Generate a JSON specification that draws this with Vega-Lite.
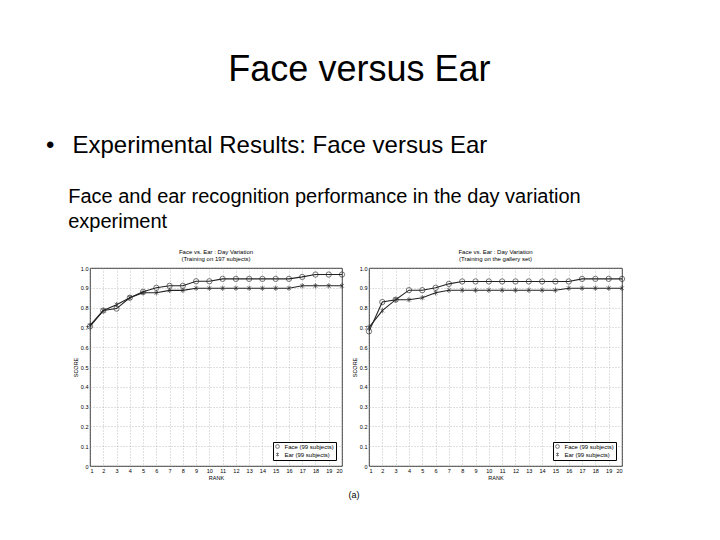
{
  "$schema": "https://vega.github.io/schema/vega-lite/v6.json",
  "background": "white",
  "padding": {"left": 45, "top": 51, "right": 5, "bottom": 5},
  "datasets": {
    "left": [
      {"rank": 1, "series": "Face (99 subjects)", "score": 0.705},
      {"rank": 2, "series": "Face (99 subjects)", "score": 0.785},
      {"rank": 3, "series": "Face (99 subjects)", "score": 0.795},
      {"rank": 4, "series": "Face (99 subjects)", "score": 0.85},
      {"rank": 5, "series": "Face (99 subjects)", "score": 0.88},
      {"rank": 6, "series": "Face (99 subjects)", "score": 0.9},
      {"rank": 7, "series": "Face (99 subjects)", "score": 0.91},
      {"rank": 8, "series": "Face (99 subjects)", "score": 0.91},
      {"rank": 9, "series": "Face (99 subjects)", "score": 0.933},
      {"rank": 10, "series": "Face (99 subjects)", "score": 0.933},
      {"rank": 11, "series": "Face (99 subjects)", "score": 0.945},
      {"rank": 12, "series": "Face (99 subjects)", "score": 0.945},
      {"rank": 13, "series": "Face (99 subjects)", "score": 0.945},
      {"rank": 14, "series": "Face (99 subjects)", "score": 0.945},
      {"rank": 15, "series": "Face (99 subjects)", "score": 0.945},
      {"rank": 16, "series": "Face (99 subjects)", "score": 0.945},
      {"rank": 17, "series": "Face (99 subjects)", "score": 0.955},
      {"rank": 18, "series": "Face (99 subjects)", "score": 0.967},
      {"rank": 19, "series": "Face (99 subjects)", "score": 0.967},
      {"rank": 20, "series": "Face (99 subjects)", "score": 0.967},
      {"rank": 1, "series": "Ear (99 subjects)", "score": 0.71},
      {"rank": 2, "series": "Ear (99 subjects)", "score": 0.785},
      {"rank": 3, "series": "Ear (99 subjects)", "score": 0.815},
      {"rank": 4, "series": "Ear (99 subjects)", "score": 0.85},
      {"rank": 5, "series": "Ear (99 subjects)", "score": 0.875},
      {"rank": 6, "series": "Ear (99 subjects)", "score": 0.875},
      {"rank": 7, "series": "Ear (99 subjects)", "score": 0.887},
      {"rank": 8, "series": "Ear (99 subjects)", "score": 0.887},
      {"rank": 9, "series": "Ear (99 subjects)", "score": 0.898},
      {"rank": 10, "series": "Ear (99 subjects)", "score": 0.898},
      {"rank": 11, "series": "Ear (99 subjects)", "score": 0.898},
      {"rank": 12, "series": "Ear (99 subjects)", "score": 0.898},
      {"rank": 13, "series": "Ear (99 subjects)", "score": 0.898},
      {"rank": 14, "series": "Ear (99 subjects)", "score": 0.898},
      {"rank": 15, "series": "Ear (99 subjects)", "score": 0.898},
      {"rank": 16, "series": "Ear (99 subjects)", "score": 0.898},
      {"rank": 17, "series": "Ear (99 subjects)", "score": 0.91},
      {"rank": 18, "series": "Ear (99 subjects)", "score": 0.91},
      {"rank": 19, "series": "Ear (99 subjects)", "score": 0.91},
      {"rank": 20, "series": "Ear (99 subjects)", "score": 0.91}
    ],
    "right": [
      {"rank": 1, "series": "Face (99 subjects)", "score": 0.68},
      {"rank": 2, "series": "Face (99 subjects)", "score": 0.828},
      {"rank": 3, "series": "Face (99 subjects)", "score": 0.84},
      {"rank": 4, "series": "Face (99 subjects)", "score": 0.888},
      {"rank": 5, "series": "Face (99 subjects)", "score": 0.888},
      {"rank": 6, "series": "Face (99 subjects)", "score": 0.9},
      {"rank": 7, "series": "Face (99 subjects)", "score": 0.92},
      {"rank": 8, "series": "Face (99 subjects)", "score": 0.932},
      {"rank": 9, "series": "Face (99 subjects)", "score": 0.932},
      {"rank": 10, "series": "Face (99 subjects)", "score": 0.932},
      {"rank": 11, "series": "Face (99 subjects)", "score": 0.932},
      {"rank": 12, "series": "Face (99 subjects)", "score": 0.932},
      {"rank": 13, "series": "Face (99 subjects)", "score": 0.932},
      {"rank": 14, "series": "Face (99 subjects)", "score": 0.932},
      {"rank": 15, "series": "Face (99 subjects)", "score": 0.932},
      {"rank": 16, "series": "Face (99 subjects)", "score": 0.932},
      {"rank": 17, "series": "Face (99 subjects)", "score": 0.945},
      {"rank": 18, "series": "Face (99 subjects)", "score": 0.945},
      {"rank": 19, "series": "Face (99 subjects)", "score": 0.945},
      {"rank": 20, "series": "Face (99 subjects)", "score": 0.945},
      {"rank": 1, "series": "Ear (99 subjects)", "score": 0.7},
      {"rank": 2, "series": "Ear (99 subjects)", "score": 0.785},
      {"rank": 3, "series": "Ear (99 subjects)", "score": 0.84},
      {"rank": 4, "series": "Ear (99 subjects)", "score": 0.84},
      {"rank": 5, "series": "Ear (99 subjects)", "score": 0.85},
      {"rank": 6, "series": "Ear (99 subjects)", "score": 0.875},
      {"rank": 7, "series": "Ear (99 subjects)", "score": 0.888},
      {"rank": 8, "series": "Ear (99 subjects)", "score": 0.888},
      {"rank": 9, "series": "Ear (99 subjects)", "score": 0.888},
      {"rank": 10, "series": "Ear (99 subjects)", "score": 0.888},
      {"rank": 11, "series": "Ear (99 subjects)", "score": 0.888},
      {"rank": 12, "series": "Ear (99 subjects)", "score": 0.888},
      {"rank": 13, "series": "Ear (99 subjects)", "score": 0.888},
      {"rank": 14, "series": "Ear (99 subjects)", "score": 0.888},
      {"rank": 15, "series": "Ear (99 subjects)", "score": 0.888},
      {"rank": 16, "series": "Ear (99 subjects)", "score": 0.898},
      {"rank": 17, "series": "Ear (99 subjects)", "score": 0.898},
      {"rank": 18, "series": "Ear (99 subjects)", "score": 0.898},
      {"rank": 19, "series": "Ear (99 subjects)", "score": 0.898},
      {"rank": 20, "series": "Ear (99 subjects)", "score": 0.898}
    ]
  },
  "title": {
    "text": "Face versus Ear",
    "anchor": "middle",
    "fontSize": 36,
    "font": "Liberation Sans",
    "fontWeight": "normal",
    "color": "#000",
    "dx": 23,
    "offset": 45
  },
  "vconcat": [
    {
      "title": {
        "text": "•\u00a0\u00a0\u2009Experimental Results: Face versus Ear",
        "subtitle": ["\u200b\u00a0\u00a0\u00a0\u00a0Face and ear recognition performance in the day variation", "\u200b\u00a0\u00a0\u00a0\u00a0experiment"],
        "anchor": "start",
        "fontSize": 24,
        "font": "Liberation Sans",
        "fontWeight": "normal",
        "color": "#000",
        "subtitleFont": "Liberation Sans",
        "subtitleFontSize": 20,
        "subtitleColor": "#000",
        "subtitleLineHeight": 25,
        "subtitlePadding": 29,
        "dx": -27,
        "offset": 17
      },
      "vconcat": [
        {
          "title": {
            "text": "(a)",
            "orient": "bottom",
            "anchor": "middle",
            "fontSize": 9,
            "font": "Liberation Sans",
            "fontWeight": "normal",
            "color": "#000",
            "dx": 4,
            "offset": 10
          },
          "resolve": {"scale": {"shape": "independent"}, "legend": {"shape": "independent"}},
          "spacing": 4,
          "hconcat": [
            {
              "width": 252,
              "height": 198,
              "data": {"name": "left"},
              "title": {"text": "Face vs. Ear : Day Variation", "subtitle": "(Training on 197 subjects)"},
              "encoding": {
                "x": {"field": "rank", "type": "quantitative", "scale": {"domain": [1, 20], "nice": false}, "axis": {"values": [1,2,3,4,5,6,7,8,9,10,11,12,13,14,15,16,17,18,19,20], "title": "RANK"}},
                "y": {"field": "score", "type": "quantitative", "scale": {"domain": [0, 1], "nice": false}, "axis": {"values": [0,0.1,0.2,0.3,0.4,0.5,0.6,0.7,0.8,0.9,1], "title": "SCORE", "labelExpr": "datum.value == 0 ? '0' : format(datum.value, '.1f')"}}
              },
              "layer": [
                {"mark": {"type": "line", "color": "#222", "strokeWidth": 1.1}, "encoding": {"detail": {"field": "series"}}},
                {"mark": {"type": "point", "filled": false, "color": "#222", "size": 28, "strokeWidth": 0.9},
                 "encoding": {"shape": {"field": "series", "type": "nominal", "sort": ["Face (99 subjects)", "Ear (99 subjects)"],
                   "scale": {"domain": ["Face (99 subjects)", "Ear (99 subjects)"], "range": ["circle", "M-0.7,-0.7L0.7,0.7M-0.7,0.7L0.7,-0.7M0,-1L0,1"]},
                   "legend": {"title": null, "orient": "bottom-right"}}}}
              ]
            },
            {
              "width": 253,
              "height": 198,
              "data": {"name": "right"},
              "title": {"text": "Face vs. Ear : Day Variation", "subtitle": "(Training on the gallery set)"},
              "encoding": {
                "x": {"field": "rank", "type": "quantitative", "scale": {"domain": [1, 20], "nice": false}, "axis": {"values": [1,2,3,4,5,6,7,8,9,10,11,12,13,14,15,16,17,18,19,20], "title": "RANK"}},
                "y": {"field": "score", "type": "quantitative", "scale": {"domain": [0, 1], "nice": false}, "axis": {"values": [0,0.1,0.2,0.3,0.4,0.5,0.6,0.7,0.8,0.9,1], "title": "SCORE", "labelExpr": "datum.value == 0 ? '0' : format(datum.value, '.1f')"}}
              },
              "layer": [
                {"mark": {"type": "line", "color": "#222", "strokeWidth": 1.1}, "encoding": {"detail": {"field": "series"}}},
                {"mark": {"type": "point", "filled": false, "color": "#222", "size": 28, "strokeWidth": 0.9},
                 "encoding": {"shape": {"field": "series", "type": "nominal", "sort": ["Face (99 subjects)", "Ear (99 subjects)"],
                   "scale": {"domain": ["Face (99 subjects)", "Ear (99 subjects)"], "range": ["circle", "M-0.7,-0.7L0.7,0.7M-0.7,0.7L0.7,-0.7M0,-1L0,1"]},
                   "legend": {"title": null, "orient": "bottom-right"}}}}
              ]
            }
          ]
        }
      ]
    }
  ],
  "config": {
    "font": "Liberation Sans",
    "view": {"stroke": "#000", "strokeWidth": 0.8},
    "title": {"fontSize": 6, "fontWeight": "normal", "color": "#000", "subtitleFontSize": 6, "subtitleColor": "#000", "subtitlePadding": 1, "offset": 4},
    "axis": {
      "domain": false,
      "ticks": false,
      "labelFontSize": 5.5,
      "labelColor": "#000",
      "labelPadding": 2,
      "titleFontSize": 5.5,
      "titleFontWeight": "normal",
      "titleColor": "#000",
      "titlePadding": 2,
      "grid": true,
      "gridColor": "#999",
      "gridDash": [1, 2],
      "gridWidth": 0.6
    },
    "legend": {
      "labelFontSize": 6,
      "labelColor": "#000",
      "strokeColor": "#000",
      "fillColor": "white",
      "padding": 1.5,
      "offset": 6,
      "rowPadding": 0,
      "symbolSize": 14,
      "symbolStrokeColor": "#222",
      "symbolFillColor": "transparent",
      "symbolStrokeWidth": 0.9,
      "labelOffset": 4
    }
  }
}
